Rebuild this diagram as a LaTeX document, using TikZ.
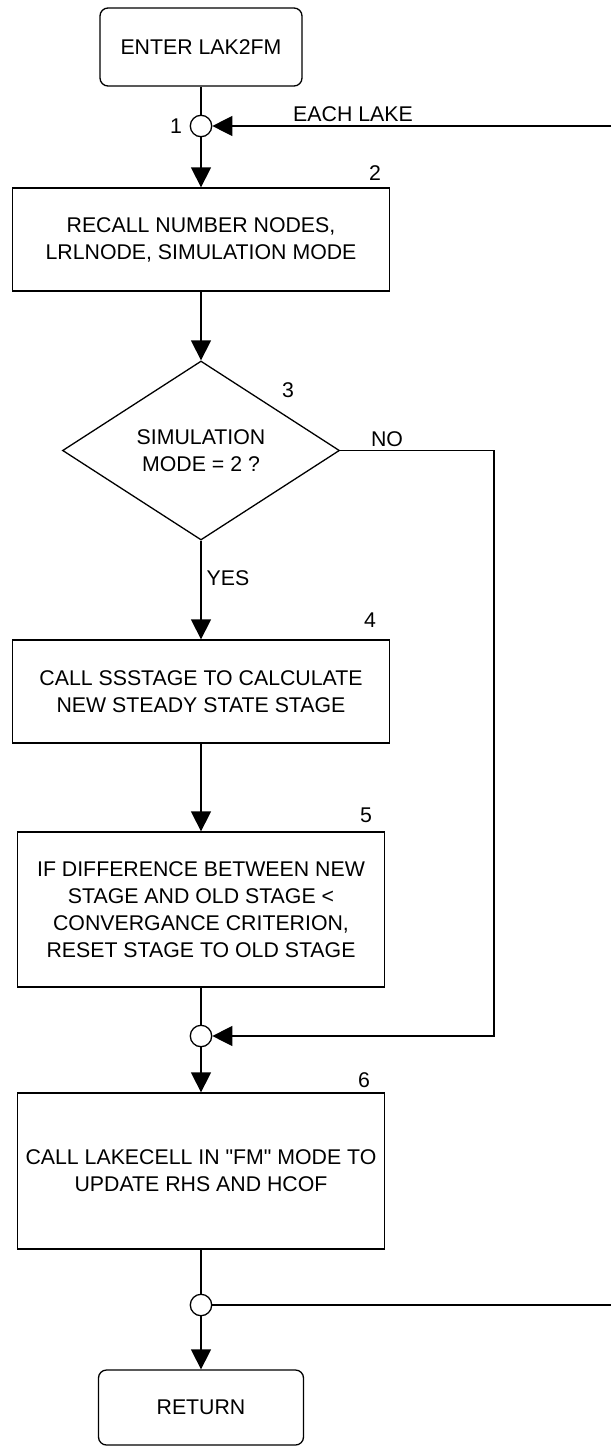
\documentclass[tikz,border=0pt]{standalone}
\usepackage{fontspec}
\setmainfont{Liberation Sans}[Ligatures=TeXOff]
\usetikzlibrary{shapes.geometric,arrows.meta}
\begin{document}
\begin{tikzpicture}[x=1pt,y=-1pt,
  every node/.style={font=\fontsize{21.3}{27}\selectfont},
  proc/.style={draw, line width=1.3pt, rectangle, align=center, inner sep=0pt},
  term/.style={proc, rounded corners=8pt},
  junc/.style={draw, circle, line width=1.3pt, minimum size=21.4pt, inner sep=0pt, fill=white},
  decision/.style={draw, diamond, aspect=1.55, align=center, inner sep=0pt, line width=1.3pt},
  flow/.style={line width=1.3pt},
  arr/.style={flow, -{Triangle[length=20pt,width=20pt]}},
  tag/.style={inner sep=0pt}]

\useasboundingbox (0,0) rectangle (611,1446);

% main column
\node[term, minimum width=202pt, minimum height=78pt] (enter) at (201,47) {ENTER LAK2FM};
\node[junc] (c1) at (201,126) {};
\node[proc, minimum width=377pt, minimum height=103pt] (b2) at (201,239.5)
  {RECALL NUMBER NODES,\\LRLNODE, SIMULATION MODE};
\node[decision, minimum width=277pt, minimum height=179pt] (d3) at (201,450.5)
  {SIMULATION\\MODE = 2 ?};
\node[proc, minimum width=377pt, minimum height=103pt] (b4) at (201,691.5)
  {CALL SSSTAGE TO CALCULATE\\NEW STEADY STATE STAGE};
\node[proc, minimum width=367pt, minimum height=155pt] (b5) at (201,909.5)
  {IF DIFFERENCE BETWEEN NEW\\STAGE AND OLD STAGE <\\CONVERGANCE CRITERION,\\RESET STAGE TO OLD STAGE};
\node[junc] (c2) at (201,1036) {};
\node[proc, minimum width=367pt, minimum height=156pt] (b6) at (201,1171)
  {CALL LAKECELL IN "FM" MODE TO\\UPDATE RHS AND HCOF};
\node[junc] (c3) at (201,1305) {};
\node[term, minimum width=205pt, minimum height=75pt] (ret) at (201,1407.5) {RETURN};

% loop ends and bypass corners
\coordinate (looptop) at (611,126);
\coordinate (loopbot) at (611,1305);
\coordinate (nocorner) at (494,450.5);
\coordinate (nobottom) at (494,1036);

% step numbers
\node[tag] (n1) at (176,126) {1};
\node[tag] (n2) at (375,173) {2};
\node[tag] (n3) at (288,390) {3};
\node[tag] (n4) at (370,620) {4};
\node[tag] (n5) at (366,815) {5};
\node[tag] (n6) at (364,1080) {6};

% branch and loop labels
\node[tag] (each) at (353,114) {EACH LAKE};
\node[tag] (no) at (387,439) {NO};
\node[tag] (yes) at (228,578) {YES};

% connectors
\draw[flow] (enter.south) -- (c1.north);
\draw[arr] (looptop) -- (c1.east);
\draw[arr] (c1.south) -- (b2.north);
\draw[arr] (b2.south) -- (d3.north);
\draw[arr] (d3.south) -- (b4.north);
\draw[arr] (d3.east) -- (nocorner) -- (nobottom) -- (c2.east);
\draw[arr] (b4.south) -- (b5.north);
\draw[flow] (b5.south) -- (c2.north);
\draw[arr] (c2.south) -- (b6.north);
\draw[flow] (b6.south) -- (c3.north);
\draw[flow] (c3.east) -- (loopbot);
\draw[arr] (c3.south) -- (ret.north);
\end{tikzpicture}
\end{document}
